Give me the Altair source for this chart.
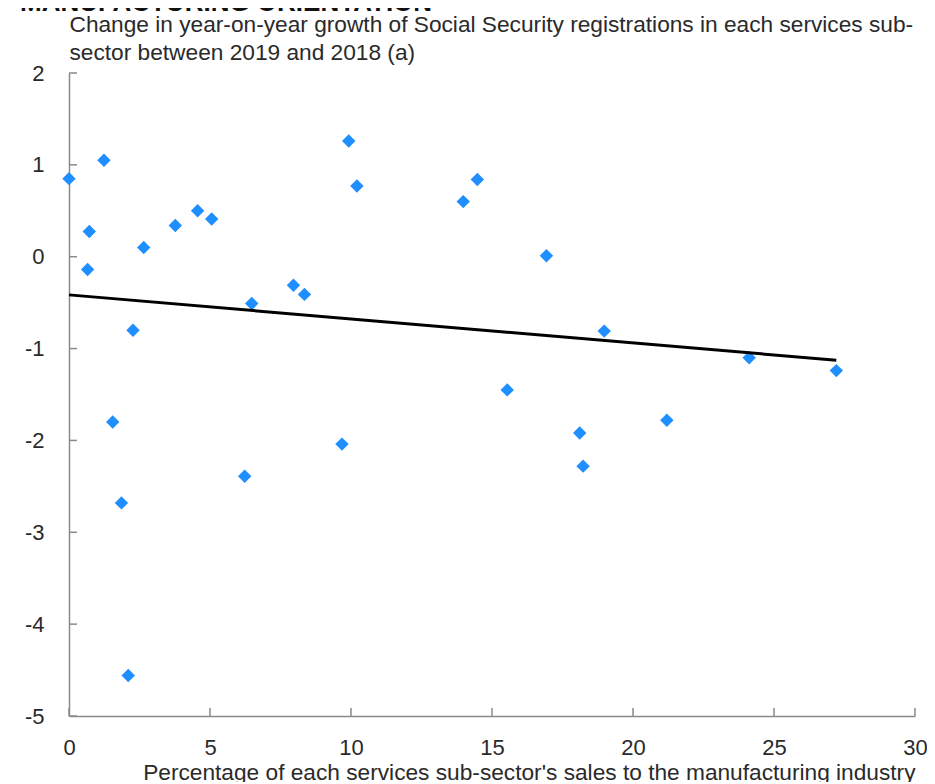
import altair as alt
import pandas as pd

# Percentage of each services sub-sector's sales to the manufacturing industry
share = [0.0, 1.24, 0.72, 0.66, 2.65, 3.77, 4.56, 5.06, 2.27, 1.55, 1.86, 2.10,
         6.23, 6.48, 7.96, 8.35, 9.92, 10.21, 9.68, 13.98, 14.48, 15.54, 16.93,
         18.98, 18.11, 18.23, 21.20, 24.12, 27.21]
# Change in year-on-year growth of registrations (pp)
change = [0.85, 1.05, 0.275, -0.14, 0.10, 0.34, 0.50, 0.41, -0.80, -1.80, -2.68, -4.56,
          -2.39, -0.51, -0.31, -0.41, 1.26, 0.77, -2.04, 0.60, 0.84, -1.45, 0.01,
          -0.81, -1.92, -2.28, -1.78, -1.10, -1.24]

x_ticks = [0, 5, 10, 15, 20, 25, 30]
y_ticks = [-5, -4, -3, -2, -1, 0, 1, 2]

chart_title = "MANUFACTURING ORIENTATION"
y_title = ["Change in year-on-year growth of Social Security registrations in each services sub-",
           "sector between 2019 and 2018 (a)"]
x_title = "Percentage of each services sub-sector's sales to the manufacturing industry"

df = pd.DataFrame({"share": share, "change": change})
W, H = 846, 643
FONT = "Liberation Sans"
AX = "#8a8a8a"
TXT = "#2a2a2a"

xs = alt.Scale(domain=[0, 30], nice=False)
ys = alt.Scale(domain=[-5, 2], nice=False)

points = alt.Chart(df).mark_point(
    shape="diamond", filled=True, size=180, color="#1f8fff", opacity=1
).encode(
    x=alt.X("share:Q", scale=xs,
            axis=alt.Axis(values=x_ticks, title=x_title, titleAnchor="end",
                          titleAlign="right", titleX=W, titleY=63,
                          titleBaseline="alphabetic", labelPadding=21,
                          labelFlush=False, labelExpr="datum.value + ''")),
    y=alt.Y("change:Q", scale=ys,
            axis=alt.Axis(values=y_ticks, title=y_title, titleAngle=0,
                          titleAlign="left", titleAnchor="start", titleX=0,
                          titleY=-42, titleBaseline="alphabetic",
                          titleLineHeight=28, labelPadding=25,
                          labelExpr="datum.value + ''")),
)

fit = alt.Chart(df).transform_regression("share", "change").mark_line(
    color="black", strokeWidth=3
).encode(
    x=alt.X("share:Q", scale=xs),
    y=alt.Y("change:Q", scale=ys),
)

ytick = alt.Chart(pd.DataFrame({"v": y_ticks})).mark_rule(color=AX, strokeWidth=1.5).encode(
    y=alt.Y("v:Q", scale=ys), x=alt.value(0), x2=alt.value(8)
)
xtick = alt.Chart(pd.DataFrame({"v": x_ticks})).mark_rule(color=AX, strokeWidth=1.5).encode(
    x=alt.X("v:Q", scale=xs), y=alt.value(H), y2=alt.value(H - 8)
)

head = alt.Chart(pd.DataFrame({"t": [chart_title]})).mark_text(
    font=FONT, fontSize=26, fontWeight="bold", align="left", baseline="alphabetic",
    color="#111"
).encode(text="t:N", x=alt.value(-49), y=alt.value(-62))

chart = alt.layer(points, fit, ytick, xtick, head).properties(
    width=W, height=H,
    autosize=alt.AutoSizeParams(type="none"),
    padding={"left": 61, "top": 65, "right": 12, "bottom": 66},
).configure_view(stroke=None).configure_axis(
    grid=False, ticks=False, domainColor=AX, domainWidth=1.5,
    labelFont=FONT, labelFontSize=22, labelColor=TXT,
    titleFont=FONT, titleFontSize=22.7, titleFontWeight="normal", titleColor=TXT,
)

chart.save("out.html", embed_options={"renderer": "svg", "actions": False})
